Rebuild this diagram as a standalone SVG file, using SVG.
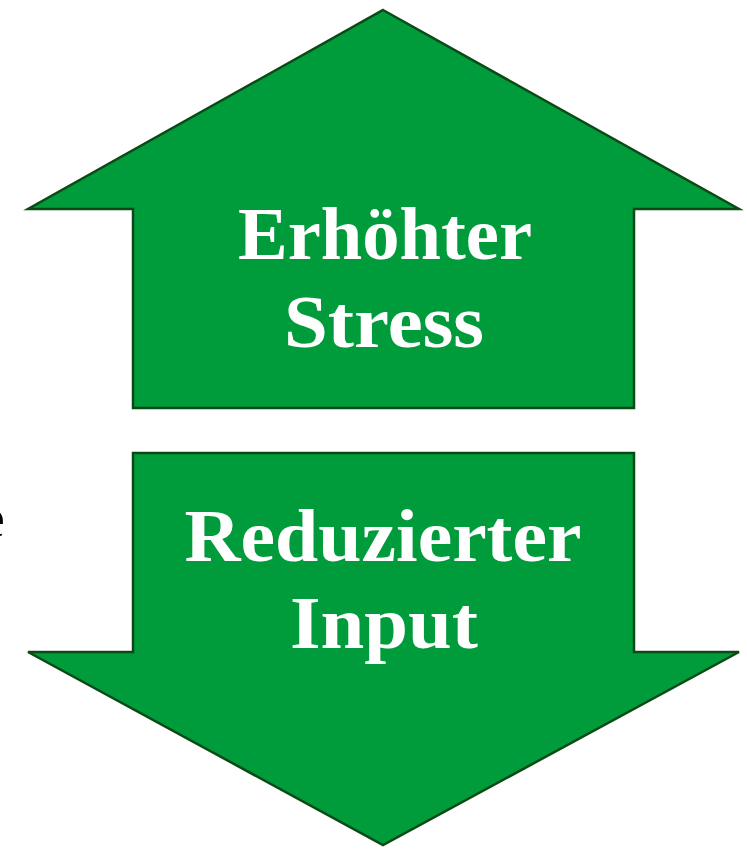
<svg xmlns="http://www.w3.org/2000/svg" width="747" height="849" viewBox="0 0 747 849">
  <style>
    .arrow { fill: #009b3a; stroke: #0b4a17; stroke-width: 2.5; stroke-linejoin: miter; }
    .label { font-family: "Liberation Serif", "Times New Roman", serif; font-weight: bold; font-size: 75px; fill: #ffffff; text-anchor: middle; }
    .side { font-family: "Liberation Serif", "Times New Roman", serif; font-size: 56px; fill: #000000; }
  </style>
  <rect width="747" height="849" fill="#ffffff"/>

  <!-- partially visible character at the left edge -->
  <text class="side" x="-20" y="537">e</text>

  <g id="up-arrow">
    <polygon class="arrow" points="383,10 739,209 634,209 634,408 133,408 133,209 28,209"/>
    <text class="label" x="385" y="259" textLength="294" lengthAdjust="spacingAndGlyphs">Erhöhter</text>
    <text class="label" x="384" y="347" textLength="200" lengthAdjust="spacingAndGlyphs">Stress</text>
  </g>

  <g id="down-arrow">
    <polygon class="arrow" points="133,453 634,453 634,652 739,652 383,845 28,652 133,652"/>
    <text class="label" x="383" y="561" textLength="397" lengthAdjust="spacingAndGlyphs">Reduzierter</text>
    <text class="label" x="384" y="648" textLength="188" lengthAdjust="spacingAndGlyphs">Input</text>
  </g>

  <g id="connectors"></g>
</svg>
